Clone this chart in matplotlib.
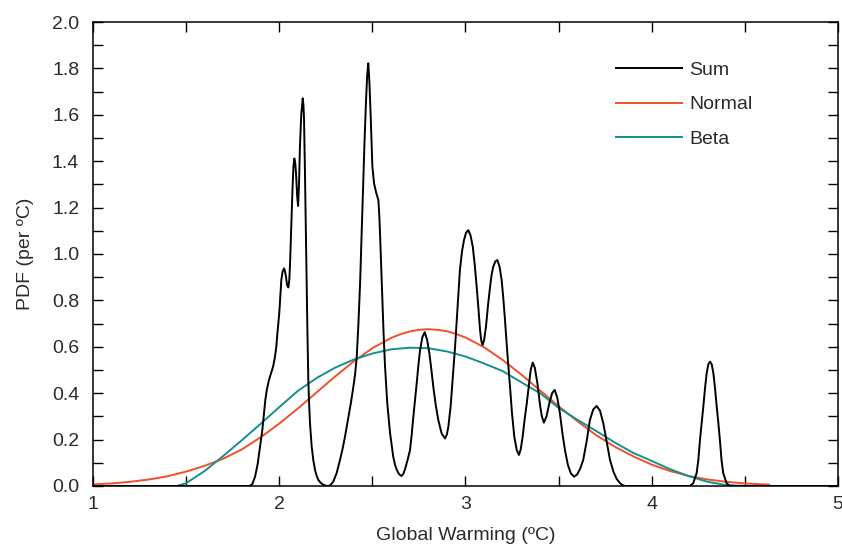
import matplotlib
matplotlib.use("Agg")
import matplotlib.pyplot as plt
from matplotlib.ticker import MultipleLocator

# ---------------- data ----------------
sum_x = [1.000, 1.840, 1.855, 1.870, 1.884, 1.897, 1.909, 1.918, 1.925, 1.933,
         1.944, 1.956, 1.967, 1.977, 1.984, 1.990, 1.995, 2.000, 2.006, 2.011,
         2.018, 2.026, 2.031, 2.036, 2.042, 2.049, 2.054, 2.058, 2.062, 2.067,
         2.071, 2.076, 2.081, 2.086, 2.090, 2.096, 2.101, 2.106, 2.111, 2.118,
         2.126, 2.130, 2.133, 2.138, 2.144, 2.148, 2.151, 2.156, 2.160, 2.165,
         2.174, 2.183, 2.192, 2.201, 2.210, 2.223, 2.237, 2.250, 2.263, 2.275,
         2.290, 2.308, 2.326, 2.340, 2.353, 2.362, 2.371, 2.385, 2.398, 2.407,
         2.416, 2.425, 2.434, 2.442, 2.451, 2.458, 2.466, 2.472, 2.478, 2.484,
         2.491, 2.500, 2.509, 2.520, 2.532, 2.537, 2.541, 2.547, 2.553, 2.560,
         2.568, 2.580, 2.595, 2.612, 2.622, 2.631, 2.644, 2.657, 2.668, 2.679,
         2.690, 2.702, 2.711, 2.720, 2.729, 2.738, 2.747, 2.756, 2.768, 2.781,
         2.794, 2.806, 2.817, 2.827, 2.840, 2.854, 2.872, 2.890, 2.900, 2.908,
         2.920, 2.935, 2.944, 2.953, 2.962, 2.970, 2.981, 2.992, 3.003, 3.015,
         3.027, 3.039, 3.050, 3.060, 3.070, 3.078, 3.085, 3.092, 3.100, 3.110,
         3.121, 3.132, 3.140, 3.149, 3.160, 3.171, 3.183, 3.194, 3.203, 3.212,
         3.225, 3.239, 3.250, 3.262, 3.275, 3.287, 3.297, 3.307, 3.318, 3.329,
         3.340, 3.350, 3.361, 3.372, 3.386, 3.400, 3.410, 3.421, 3.435, 3.450,
         3.465, 3.479, 3.493, 3.507, 3.520, 3.534, 3.550, 3.566, 3.583, 3.600,
         3.616, 3.632, 3.650, 3.668, 3.686, 3.704, 3.722, 3.740, 3.758, 3.776,
         3.795, 3.812, 3.830, 3.843, 3.856, 4.205, 4.223, 4.241, 4.250, 4.259,
         4.268, 4.277, 4.286, 4.295, 4.304, 4.313, 4.322, 4.331, 4.340, 4.349,
         4.358, 4.366, 4.375, 4.384, 4.402, 4.420, 5.000]
sum_y = [0.000, 0.000, 0.008, 0.040, 0.095, 0.170, 0.241, 0.315, 0.370, 0.414,
         0.455, 0.487, 0.515, 0.557, 0.600, 0.658, 0.700, 0.745, 0.820, 0.888,
         0.925, 0.938, 0.925, 0.902, 0.865, 0.856, 0.890, 0.960, 1.060, 1.175,
         1.280, 1.376, 1.412, 1.390, 1.348, 1.250, 1.207, 1.300, 1.463, 1.600,
         1.671, 1.640, 1.578, 1.350, 1.032, 0.850, 0.672, 0.457, 0.360, 0.270,
         0.170, 0.110, 0.069, 0.043, 0.026, 0.013, 0.005, 0.001, 0.000, 0.004,
         0.019, 0.055, 0.112, 0.160, 0.213, 0.255, 0.299, 0.360, 0.428, 0.480,
         0.557, 0.700, 0.874, 1.080, 1.305, 1.490, 1.664, 1.770, 1.822, 1.740,
         1.592, 1.376, 1.305, 1.265, 1.233, 1.170, 1.089, 0.950, 0.802, 0.660,
         0.514, 0.356, 0.227, 0.126, 0.090, 0.069, 0.050, 0.043, 0.055, 0.083,
         0.115, 0.155, 0.220, 0.299, 0.370, 0.443, 0.520, 0.586, 0.640, 0.663,
         0.630, 0.572, 0.500, 0.428, 0.350, 0.284, 0.226, 0.205, 0.222, 0.256,
         0.342, 0.500, 0.600, 0.716, 0.830, 0.931, 1.010, 1.060, 1.092, 1.103,
         1.080, 1.032, 0.950, 0.859, 0.760, 0.672, 0.625, 0.608, 0.630, 0.687,
         0.780, 0.859, 0.910, 0.945, 0.968, 0.974, 0.945, 0.888, 0.810, 0.716,
         0.570, 0.428, 0.310, 0.213, 0.155, 0.134, 0.160, 0.213, 0.290, 0.356,
         0.430, 0.500, 0.532, 0.510, 0.443, 0.350, 0.300, 0.273, 0.300, 0.356,
         0.400, 0.414, 0.380, 0.313, 0.230, 0.155, 0.090, 0.054, 0.040, 0.050,
         0.075, 0.112, 0.190, 0.284, 0.330, 0.345, 0.325, 0.270, 0.190, 0.112,
         0.060, 0.030, 0.012, 0.004, 0.000, 0.000, 0.012, 0.055, 0.110, 0.198,
         0.270, 0.342, 0.420, 0.486, 0.525, 0.536, 0.525, 0.486, 0.420, 0.342,
         0.270, 0.198, 0.110, 0.055, 0.012, 0.000, 0.000]

normal_x = [1.0, 1.1, 1.2, 1.3, 1.4, 1.5, 1.6, 1.7, 1.8, 1.9, 2.0, 2.1, 2.2, 2.3,
            2.4, 2.5, 2.6, 2.65, 2.7, 2.75, 2.8, 2.85, 2.9, 2.95, 3.0, 3.1, 3.2,
            3.3, 3.4, 3.5, 3.6, 3.7, 3.8, 3.9, 4.0, 4.1, 4.2, 4.3, 4.4, 4.5,
            4.6, 4.63]
normal_y = [0.007, 0.011, 0.018, 0.028, 0.042, 0.062, 0.087, 0.118, 0.158, 0.210,
            0.269, 0.334, 0.403, 0.472, 0.537, 0.594, 0.638, 0.654, 0.666, 0.673,
            0.676, 0.673, 0.667, 0.655, 0.640, 0.598, 0.543, 0.480, 0.412, 0.344,
            0.280, 0.220, 0.170, 0.128, 0.092, 0.064, 0.043, 0.028, 0.018, 0.011,
            0.007, 0.006]

beta_x = [1.45, 1.5, 1.6, 1.7, 1.8, 1.9, 2.0, 2.1, 2.2, 2.3, 2.4, 2.5, 2.6, 2.7,
          2.8, 2.9, 3.0, 3.1, 3.2, 3.3, 3.4, 3.5, 3.6, 3.7, 3.8, 3.9, 4.0, 4.1,
          4.2, 4.3, 4.4, 4.5, 4.62]
beta_y = [0.000, 0.012, 0.065, 0.130, 0.198, 0.268, 0.340, 0.410, 0.465, 0.510,
          0.545, 0.571, 0.589, 0.596, 0.594, 0.580, 0.558, 0.528, 0.495, 0.447,
          0.400, 0.337, 0.286, 0.238, 0.188, 0.143, 0.108, 0.072, 0.042, 0.018,
          0.004, 0.000, 0.000]

series_labels = ["Sum", "Normal", "Beta"]
x_ticks = [1, 2, 3, 4, 5]
y_ticks = [0.0, 0.2, 0.4, 0.6, 0.8, 1.0, 1.2, 1.4, 1.6, 1.8, 2.0]

# ---------------- plotting ----------------
plt.rcParams['font.family'] = ['Liberation Sans', 'DejaVu Sans']
text_color = '#2b2b2b'
fs = 14

fig = plt.figure(figsize=(8.42, 5.45), dpi=100)
ax = fig.add_axes([0.1105, 0.1083, 0.8847, 0.8513])

ax.plot(sum_x, sum_y, color='black', lw=1.4, label=series_labels[0], zorder=3)
ax.plot(normal_x, normal_y, color='#f0502a', lw=1.4, label=series_labels[1], zorder=2)
ax.plot(beta_x, beta_y, color='#13908f', lw=1.4, label=series_labels[2], zorder=2)

ax.set_xlim(1, 5)
ax.set_ylim(0, 2.0)
ax.set_xticks(x_ticks)
ax.set_xticklabels([str(v) for v in x_ticks])
ax.xaxis.set_minor_locator(MultipleLocator(0.5))
ax.set_yticks(y_ticks)
ax.set_yticklabels([f"{v:.1f}" for v in y_ticks])
ax.yaxis.set_minor_locator(MultipleLocator(0.1))

ax.tick_params(which='both', direction='in', top=True, right=True,
               length=7, width=1.0, color='black', labelsize=fs,
               labelcolor=text_color)
ax.tick_params(axis='y', pad=10)
ax.tick_params(axis='x', pad=7)

for s in ax.spines.values():
    s.set_linewidth(1.1)
    s.set_color('black')

ax.set_xlabel("Global Warming (ºC)", fontsize=fs, color=text_color, labelpad=10)
ax.set_ylabel("PDF (per ºC)", fontsize=fs, color=text_color, labelpad=13)

leg = ax.legend(loc='upper left', bbox_to_anchor=(0.702, 0.915), frameon=False,
                fontsize=fs, handlelength=3.4, handletextpad=0.35,
                labelspacing=0.86, borderaxespad=0, borderpad=0)
for t in leg.get_texts():
    t.set_color(text_color)

fig.savefig("out.png", dpi=100)
